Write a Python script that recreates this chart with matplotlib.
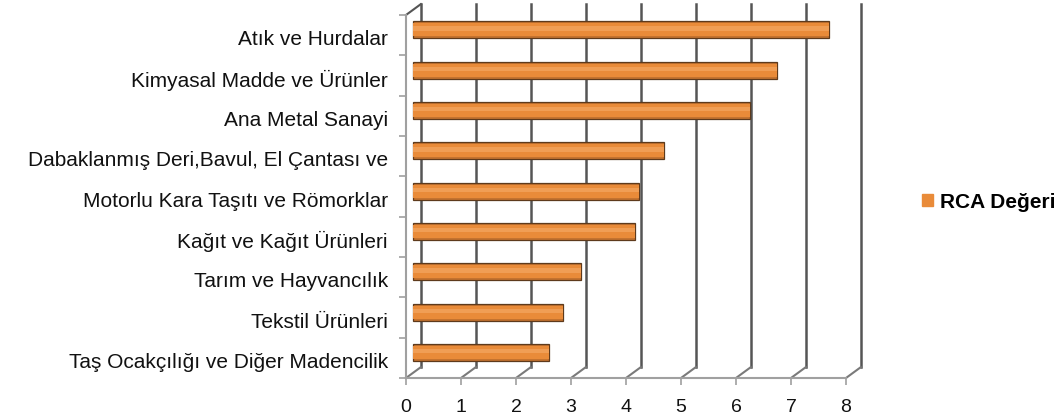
import numpy as np
import matplotlib.pyplot as plt
from matplotlib.patches import Patch

plt.rcParams['font.family'] = ['Liberation Sans', 'DejaVu Sans']

# categories from bottom to top
categories = ['Taş Ocakçılığı ve Diğer Madencilik', 'Tekstil Ürünleri',
              'Tarım ve Hayvancılık', 'Kağıt ve Kağıt Ürünleri',
              'Motorlu Kara Taşıtı ve Römorklar',
              'Dabaklanmış Deri,Bavul, El Çantası ve', 'Ana Metal Sanayi',
              'Kimyasal Madde ve Ürünler', 'Atık ve Hurdalar']
rca = [2.46, 2.72, 3.04, 4.03, 4.10, 4.55, 6.12, 6.61, 7.55]
series_name = 'RCA Değeri'
x_ticks = list(range(9))

orange = '#E98B39'
depth = 0.27  # fake 3d offset in data units

fig = plt.figure(figsize=(10.59, 4.2), dpi=100)
ax = fig.add_axes([406/1059, 42/420, 440/1059, 363/420])
ax.set_xlim(0, 8)
ax.set_ylim(-0.5, 8.5)
for s in ax.spines.values():
  s.set_visible(False)

n = len(categories)
y = np.arange(n)

# back wall grid lines
for k in x_ticks:
  ax.plot([k+depth, k+depth], [-0.5+depth, n-0.5+depth], color='#555555', lw=1.8, clip_on=False, zorder=1)
  ax.plot([k, k+depth], [-0.5, -0.5+depth], color='#7a7a7a', lw=1.5, clip_on=False, zorder=1)
ax.plot([0, depth], [n-0.5, n-0.5+depth], color='#555555', lw=1.5, clip_on=False, zorder=1)

# front axes
ax.plot([0, 0], [-0.5, n-0.5], color='#a0a0a0', lw=1.5, clip_on=False, zorder=2)
ax.plot([0, 8], [-0.5, -0.5], color='#a0a0a0', lw=1.5, clip_on=False, zorder=2)

# cylinder-ish bars
ax.barh(y+depth/2, rca, left=depth/2, height=0.42, color='#C4732F', edgecolor='#5E3A1C', lw=0.9, zorder=3)
ax.barh(y+depth/2, rca, left=depth/2, height=0.32, color=orange, lw=0, zorder=4)
ax.barh(y+depth/2+0.03, rca, left=depth/2, height=0.10, color='#F09E55', lw=0, zorder=5)

ax.set_yticks(y - 0.07, categories)
ax.set_yticks(np.arange(-0.5, n, 1), minor=True)
ax.tick_params(axis='y', which='major', length=0, pad=13, labelsize=15, labelcolor='#111111')
ax.tick_params(axis='y', which='minor', length=5, width=1.2, color='#a0a0a0')
ax.set_xticks(x_ticks)
ax.tick_params(axis='x', length=5, width=1.2, color='#a0a0a0', pad=10, labelsize=14, labelcolor='#111111')

handle = Patch(color=orange)
fig.legend(handles=[handle], labels=[series_name], loc='center left',
           bbox_to_anchor=(922/1059, 1-202/420), frameon=False, borderpad=0, borderaxespad=0,
           handlelength=0.55, handleheight=0.55, handletextpad=0.3,
           prop={'size': 15, 'weight': 'bold'})

fig.savefig('out.png', dpi=100)
